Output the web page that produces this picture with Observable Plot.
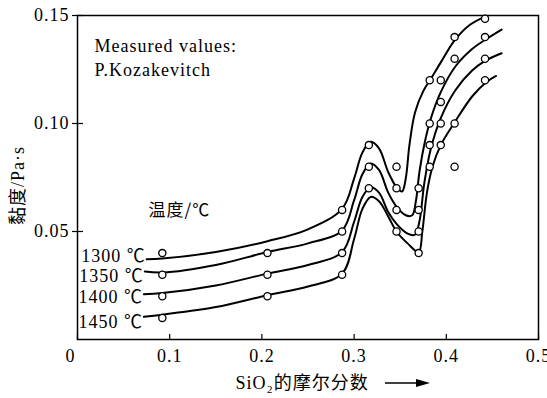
<!DOCTYPE html>
<html><head><meta charset="utf-8">
<script src="https://cdn.jsdelivr.net/npm/d3@7"></script>
<script src="https://cdn.jsdelivr.net/npm/@observablehq/plot@0.6"></script>
<style>html,body{margin:0;padding:0;background:#fff;}</style>
</head><body><div id="chart"></div>
<script>
// ---- data ----
const temperatures = ["1300 ℃", "1350 ℃", "1400 ℃", "1450 ℃"];
const temperatureLabelY = [0.0385, 0.0295, 0.0196, 0.0082];

const curve1300 = [[0.075,0.0372],[0.092,0.0375],[0.15,0.0405],[0.206,0.0455],[0.25,0.051],[0.287,0.0605],[0.300,0.0745],[0.309,0.0865],[0.318,0.0915],[0.327,0.0885],[0.337,0.0775],[0.346,0.0705],[0.352,0.0685],[0.356,0.0745],[0.360,0.090],[0.366,0.105],[0.375,0.115],[0.383,0.1205],[0.395,0.129],[0.409,0.1385],[0.425,0.1455],[0.442,0.1495]];
const curve1350 = [[0.073,0.0315],[0.092,0.031],[0.15,0.0345],[0.206,0.0405],[0.25,0.0445],[0.287,0.0505],[0.300,0.0645],[0.309,0.0765],[0.318,0.0815],[0.327,0.0785],[0.337,0.068],[0.346,0.0615],[0.356,0.0575],[0.363,0.0575],[0.367,0.064],[0.371,0.078],[0.377,0.092],[0.383,0.102],[0.394,0.1145],[0.41,0.1265],[0.428,0.1345],[0.443,0.139],[0.46,0.1435]];
const curve1400 = [[0.072,0.021],[0.092,0.0215],[0.15,0.025],[0.206,0.0305],[0.25,0.0345],[0.287,0.0405],[0.300,0.0545],[0.309,0.066],[0.318,0.0705],[0.327,0.068],[0.337,0.059],[0.346,0.0535],[0.358,0.049],[0.366,0.0485],[0.371,0.055],[0.376,0.072],[0.383,0.088],[0.394,0.1025],[0.41,0.1155],[0.428,0.1245],[0.442,0.129],[0.46,0.1325]];
const curve1450 = [[0.072,0.0105],[0.092,0.0115],[0.15,0.015],[0.206,0.0205],[0.25,0.0245],[0.287,0.0305],[0.300,0.0465],[0.309,0.0605],[0.318,0.066],[0.327,0.064],[0.337,0.057],[0.346,0.050],[0.358,0.0445],[0.370,0.0405],[0.374,0.050],[0.379,0.068],[0.385,0.080],[0.394,0.090],[0.409,0.1005],[0.428,0.1125],[0.443,0.119],[0.454,0.122]];

const measuredX = [0.092,0.092,0.092,0.092, 0.206,0.206,0.206, 0.287,0.287,0.287,0.287, 0.316,0.316,0.316, 0.346,0.346,0.346,0.346, 0.370,0.370,0.370,0.370, 0.382,0.382,0.382,0.382, 0.394,0.394,0.394,0.394, 0.409,0.409,0.409,0.409, 0.442,0.442,0.442,0.442];
const measuredY = [0.04,0.03,0.02,0.01, 0.04,0.03,0.02, 0.06,0.05,0.04,0.03, 0.09,0.08,0.07, 0.08,0.07,0.06,0.05, 0.07,0.06,0.05,0.04, 0.08,0.09,0.10,0.12, 0.09,0.10,0.11,0.12, 0.08,0.10,0.13,0.14, 0.12,0.13,0.14,0.1485];

const xTicks = [0, 0.1, 0.2, 0.3, 0.4, 0.5];
const yTicks = [0.05, 0.10, 0.15];

const noteText = "Measured values:\nP.Kozakevitch";
const legendTitle = "温度/℃";
const xLabel = "SiO₂的摩尔分数";
const yLabel = "黏度/Pa·s";

// ---- build tables ----
const curves = [curve1300, curve1350, curve1400, curve1450];
const lineData = curves.flatMap((c, i) => c.map(([x, y]) => ({x, y, t: temperatures[i]})));
const labelData = curves.map((c, i) => ({x: c[0][0], y: temperatureLabelY[i], t: temperatures[i]}));
const measured = measuredX.map((x, i) => ({x, y: measuredY[i]}));

const serif = "'Liberation Serif','Times New Roman','Noto Sans CJK SC',serif";
const W = 547, H = 398, mL = 77, mR = 9, mT = 15, mB = 59;
const axisStyle = {tickSize: 0, tickPadding: 10, tickFormat: d => String(d), label: null, fontSize: 18, fontFamily: serif};

const chart = Plot.plot({
  width: W, height: H,
  marginLeft: mL, marginRight: mR, marginTop: mT, marginBottom: mB,
  style: `font-family: ${serif}; font-size: 18px; color: #000; background: #fff; letter-spacing: 1px; overflow: visible;`,
  x: {domain: [0, 0.5]},
  y: {domain: [0, 0.15]},
  marks: [
    Plot.frame({stroke: "#000", strokeWidth: 1.5}),
    Plot.axisX(xTicks.filter(d => d !== 0), axisStyle),
    Plot.axisX(xTicks.filter(d => d === 0), {...axisStyle, dx: -7}),
    Plot.tickX(xTicks, {x: d => d, stroke: "#000", strokeWidth: 1.2, insetTop: (H - mT - mB) - 5}),
    Plot.axisY({ticks: yTicks, tickSize: 5, tickPadding: 3, tickFormat: d3.format(".2f"), label: null, fontSize: 18, fontFamily: serif, strokeWidth: 1.2}),
    Plot.tickY(yTicks, {y: d => d, stroke: "#000", strokeWidth: 1.2, insetRight: (W - mL - mR) - 6}),
    Plot.line(lineData, {x: "x", y: "y", z: "t", curve: "catmull-rom", stroke: "#000", strokeWidth: 2}),
    Plot.dot(measured, {x: "x", y: "y", r: 3.6, stroke: "#000", fill: "#fff", strokeWidth: 1.3}),
    Plot.text(labelData, {x: "x", y: "y", text: "t", textAnchor: "end", dx: -1, fontSize: 18, fontFamily: serif}),
    Plot.text([noteText], {frameAnchor: "top-left", dx: 17, dy: 20, lineAnchor: "top", textAnchor: "start", lineHeight: 1.3, fontSize: 18, fontFamily: serif}),
    Plot.text([legendTitle], {frameAnchor: "top-left", dx: 71, dy: 195, textAnchor: "start", lineAnchor: "middle", fontSize: 17, fontFamily: "'Noto Sans CJK SC',sans-serif"}),
    Plot.text([xLabel], {frameAnchor: "bottom-left", dx: 158, dy: 44, textAnchor: "start", lineAnchor: "middle", fontSize: 18, fontFamily: serif}),
    Plot.text([yLabel], {frameAnchor: "left", dx: -59, dy: 8, rotate: -90, textAnchor: "middle", lineAnchor: "middle", fontSize: 18, fontFamily: serif})
  ]
});

// decorative arrow after the x label
const svg = d3.select(chart);
const ay = H - mB + 44;
svg.append("line").attr("x1", 385).attr("x2", 420).attr("y1", ay).attr("y2", ay).attr("stroke", "#000").attr("stroke-width", 1.6);
svg.append("path").attr("d", `M416,${ay - 4}L430,${ay}L416,${ay + 4}Z`).attr("fill", "#000");

document.getElementById("chart").appendChild(chart);
</script>
</body></html>
